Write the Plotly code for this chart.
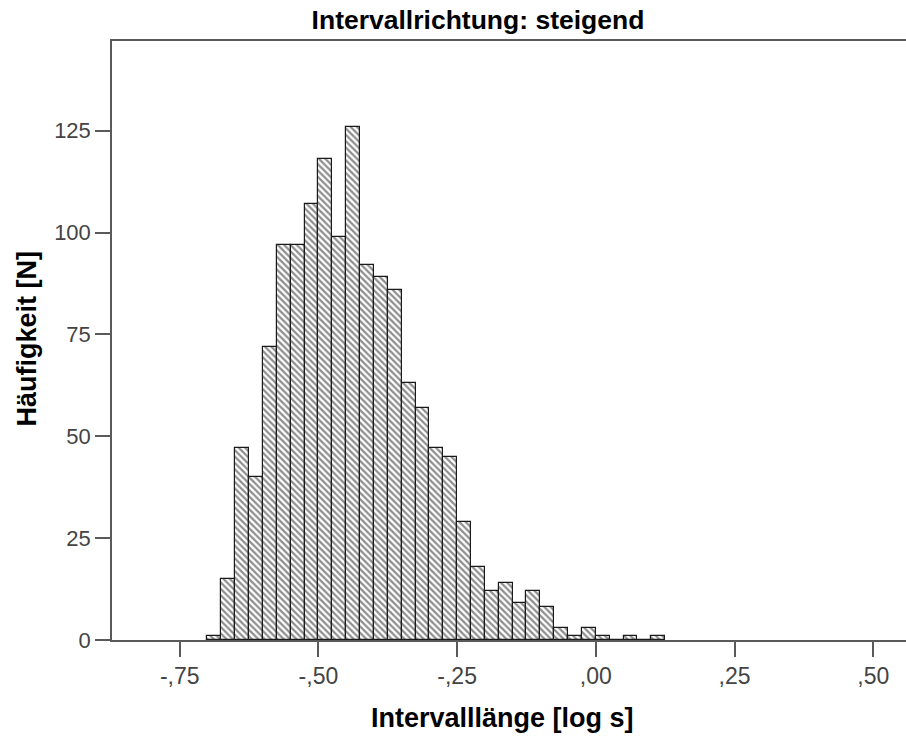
import plotly.graph_objects as go

# Histogram of interval lengths (log seconds), rising interval direction
bin_starts = [-0.700, -0.675, -0.650, -0.625, -0.600, -0.575, -0.550, -0.525,
              -0.500, -0.475, -0.450, -0.425, -0.400, -0.375, -0.350, -0.325,
              -0.300, -0.275, -0.250, -0.225, -0.200, -0.175, -0.150, -0.125,
              -0.100, -0.075, -0.050, -0.025, 0.000, 0.025, 0.050, 0.075, 0.100]
counts = [1, 15, 47, 40, 72, 97, 97, 107,
          118, 99, 126, 92, 89, 86, 63, 57,
          47, 45, 29, 18, 12, 14, 9, 12,
          8, 3, 1, 3, 1, 0, 1, 0, 1]
bin_width = 0.025

x_tick_vals = [-0.75, -0.50, -0.25, 0.00, 0.25, 0.50]
x_tick_text = ["-,75", "-,50", "-,25", ",00", ",25", ",50"]
y_tick_vals = [0, 25, 50, 75, 100, 125]
y_tick_text = ["0", "25", "50", "75", "100", "125"]

title_text = "Intervallrichtung: steigend"
x_title = "Intervalllänge [log s]"
y_title = "Häufigkeit [N]"

FONT = "Liberation Sans, Arial, sans-serif"

centers = [s + bin_width / 2 for s in bin_starts]

fig = go.Figure()
fig.add_trace(go.Bar(
    x=centers,
    y=counts,
    width=bin_width,
    marker=dict(
        color="white",
        line=dict(color="#1a1a1a", width=1.2),
        pattern=dict(shape="\\", fgcolor="#1e1e1e", bgcolor="white",
                     size=4.5, solidity=0.5),
    ),
    showlegend=False,
    hoverinfo="x+y",
))

fig.update_layout(
    width=906,
    height=738,
    margin=dict(l=112, r=0, t=41, b=98, autoexpand=False),
    paper_bgcolor="white",
    plot_bgcolor="white",
    bargap=0,
    title=dict(
        text=title_text,
        x=478 / 906, xref="container", xanchor="center",
        y=1 - 20 / 738, yref="container", yanchor="middle",
        font=dict(family=FONT, size=26.5, color="black", weight="bold"),
    ),
    xaxis=dict(
        range=[-0.872, 0.559],
        tickvals=x_tick_vals,
        ticktext=x_tick_text,
        showline=True, linecolor="#5a5a5a", linewidth=1.5,
        mirror=True,
        ticks="outside", ticklen=15, tickwidth=1.5, tickcolor="#5a5a5a",
        showgrid=False, zeroline=False,
        tickfont=dict(family=FONT, size=23, color="#444444"),
        fixedrange=True,
    ),
    yaxis=dict(
        range=[0, 147],
        tickvals=y_tick_vals,
        ticktext=y_tick_text,
        showline=True, linecolor="#5a5a5a", linewidth=1.5,
        ticks="outside", ticklen=15, tickwidth=1.5, tickcolor="#5a5a5a",
        showgrid=False, zeroline=False,
        tickfont=dict(family=FONT, size=22, color="#444444"),
        fixedrange=True,
    ),
    annotations=[
        dict(text=x_title, xref="paper", yref="paper",
             x=(502 - 112) / 794, y=(640.3 - 701) / 599.6,
             xanchor="center", yanchor="top", showarrow=False,
             font=dict(family=FONT, size=27, color="black", weight="bold")),
        dict(text=y_title, xref="paper", yref="paper",
             x=(27.5 - 112) / 794, y=(640.3 - 339) / 599.6,
             xanchor="center", yanchor="middle", textangle=-90,
             showarrow=False,
             font=dict(family=FONT, size=27, color="black", weight="bold")),
    ],
)

fig.write_html("out.html")
